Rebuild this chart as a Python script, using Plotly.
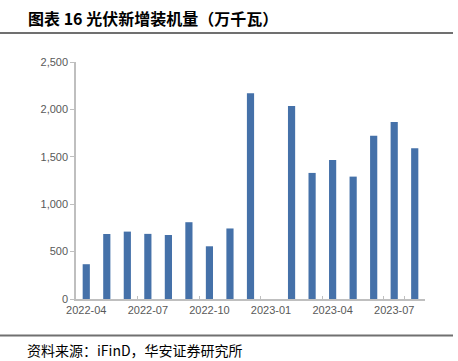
import plotly.graph_objects as go

months = ["2022-04", "2022-05", "2022-06", "2022-07", "2022-08", "2022-09",
          "2022-10", "2022-11", "2022-12", "2023-01", "2023-02", "2023-03",
          "2023-04", "2023-05", "2023-06", "2023-07", "2023-08"]
installs = [367, 686, 711, 687, 675, 810, 556, 744, 2170, None, 2037, 1330,
            1465, 1291, 1721, 1866, 1591]
tick_labels = ["2022-04", "2022-07", "2022-10", "2023-01", "2023-04", "2023-07"]
y_ticks = [0, 500, 1000, 1500, 2000, 2500]
title_text = "图表 16 光伏新增装机量（万千瓦）"
source_text = "资料来源：iFinD，华安证券研究所"

L, T, W, H = 76, 62, 349, 237  # plot area in pixels

fig = go.Figure(go.Bar(x=months, y=installs, marker_color="#4571a9",
                       marker_line_width=0, width=0.35))

fig.update_layout(
    width=458, height=361,
    margin=dict(l=L, r=458 - L - W, t=T, b=361 - T - H, autoexpand=False),
    plot_bgcolor="white", paper_bgcolor="white",
    showlegend=False,
    font=dict(family="Liberation Sans, Arial, sans-serif", color="#595959", size=11),
)
fig.update_xaxes(
    type="category", categoryorder="array", categoryarray=months,
    range=[-0.5, len(months) - 0.5],
    tickmode="array", tickvals=tick_labels, ticktext=tick_labels,
    tickson="boundaries", ticks="inside", ticklen=3, tickcolor="#bfbfbf",
    tickangle=0, automargin=False,
    showline=True, linecolor="#bfbfbf", linewidth=1.5,
    showgrid=False, tickfont=dict(size=11, color="#595959"),
)
fig.update_yaxes(
    range=[0, 2500], tickvals=y_ticks, tickformat=",",
    ticks="outside", ticklen=4, tickcolor="#bfbfbf", automargin=False,
    showline=True, linecolor="#bfbfbf", linewidth=1.5,
    showgrid=False, zeroline=False, tickfont=dict(size=11, color="#595959"),
)

def px(xp):
    return (xp - L) / W

def py(yp):
    return (T + H - yp) / H

fig.add_annotation(text=title_text, xref="paper", yref="paper",
                   x=px(26), y=py(18), xanchor="left", yanchor="middle",
                   showarrow=False,
                   font=dict(family="Noto Sans CJK SC", size=16, color="#000000", weight="bold"))
fig.add_annotation(text=source_text, xref="paper", yref="paper",
                   x=px(25), y=py(350), xanchor="left", yanchor="middle",
                   showarrow=False,
                   font=dict(family="Noto Sans CJK SC", size=14, color="#000000"))
for yy in (33, 335.5):
    fig.add_shape(type="line", xref="paper", yref="paper",
                  x0=px(0), x1=px(453), y0=py(yy), y1=py(yy),
                  line=dict(color="#707070", width=2))

fig.write_html("out.html", config={"displayModeBar": False},
               post_script="document.body.style.margin='0';document.body.style.overflow='hidden';")
